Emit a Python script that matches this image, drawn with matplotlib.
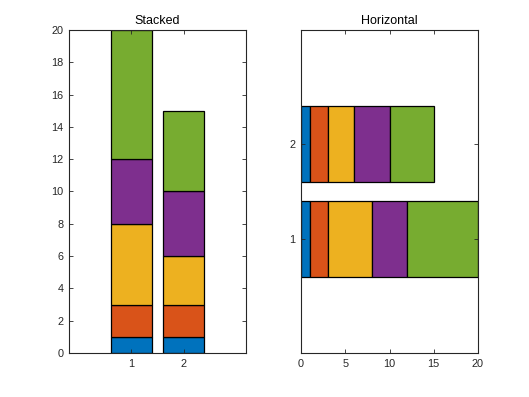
import matplotlib
matplotlib.use("Agg")
import matplotlib.pyplot as plt
import numpy as np

plt.rcParams['font.family'] = ['Liberation Sans', 'DejaVu Sans']

categories = [1, 2]
segments = [
    [1, 1],   # series 1
    [2, 2],   # series 2
    [5, 3],   # series 3
    [4, 4],   # series 4
    [8, 5],   # series 5
]
colors = ['#0072BD', '#D95319', '#EDB120', '#7E2F8E', '#77AC30']
yticks_left = [0, 2, 4, 6, 8, 10, 12, 14, 16, 18, 20]
xticks_right = [0, 5, 10, 15, 20]

fig = plt.figure(figsize=(5.29, 3.97), dpi=100)
ax1 = fig.add_axes([69/529, 1-353/397, 177/529, 323/397])
ax2 = fig.add_axes([301/529, 1-353/397, 177/529, 323/397])

axc = '#262626'
bottom = np.zeros(len(categories))
for seg, c in zip(segments, colors):
    seg = np.array(seg, dtype=float)
    ax1.bar(categories, seg, bottom=bottom, width=0.8, color=c,
            edgecolor='black', linewidth=0.9)
    ax2.barh(categories, seg, left=bottom, height=0.8, color=c,
             edgecolor='black', linewidth=0.9)
    bottom += seg

ax1.set_xlim(-0.2, 3.2)
ax1.set_ylim(0, 20)
ax1.set_xticks(categories)
ax1.set_yticks(yticks_left)
ax1.set_title('Stacked', fontsize=9, color='black', pad=4)

ax2.set_ylim(-0.2, 3.2)
ax2.set_xlim(0, 20)
ax2.set_yticks(categories)
ax2.set_xticks(xticks_right)
ax2.set_title('Horizontal', fontsize=9, color='black', pad=4)

for ax in (ax1, ax2):
    for s in ax.spines.values():
        s.set_color(axc)
        s.set_linewidth(0.8)
    ax.tick_params(direction='in', length=3, width=0.6, colors=axc,
                   labelsize=7.8, top=True, right=True, labelcolor=axc, pad=4)

fig.savefig('out.png', dpi=100)
